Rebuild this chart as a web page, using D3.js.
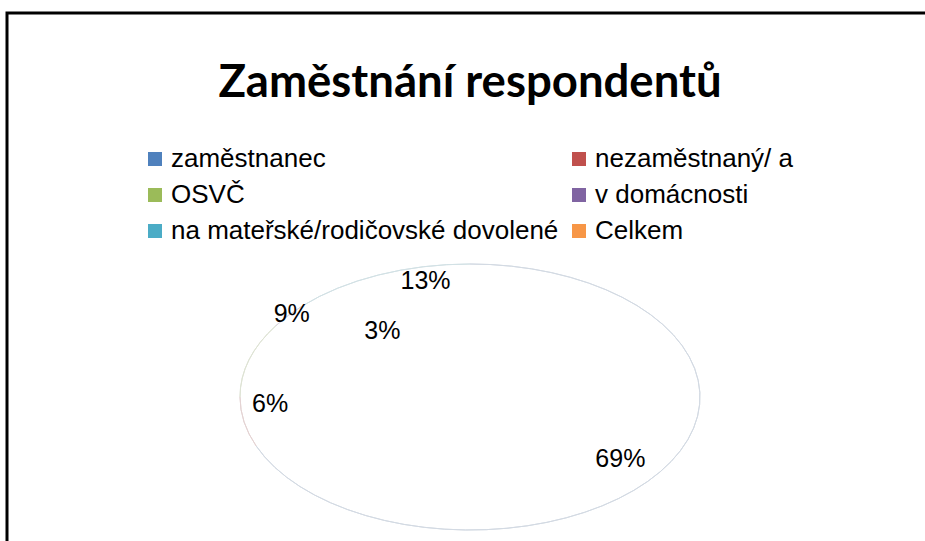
<!DOCTYPE html>
<html><head><meta charset="utf-8">
<script src="https://cdn.jsdelivr.net/npm/d3@7"></script>
<style>html,body{margin:0;padding:0;background:#fff;overflow:hidden}</style>
</head><body>
<svg id="c" width="925" height="541"></svg>
<script>
const title = "Zaměstnání respondentů";
const categories = ["zaměstnanec","nezaměstnaný/ a","OSVČ","v domácnosti","na mateřské/rodičovské dovolené","Celkem"];
const values = [69, 6, 9, 3, 13, 0];
const colors = ["#4F81BD","#C0504D","#9BBB59","#8064A2","#4BACC6","#F79646"];
const labelTexts = ["69%","6%","9%","3%","13%",""];
// label layout (angle nudge in degrees, radial factor) - best-fit placement
const labelNudge = [1, 8, 23, 15, 11, 0];
const labelRadius = [0.80, 0.87, 1.0, 0.63, 0.90, 0];

const svg = d3.select("#c");
// frame
svg.append("path").attr("d","M7,541V13H925").attr("fill","none").attr("stroke","#000").attr("stroke-width",3);

svg.append("text").attr("x",470).attr("y",97).attr("text-anchor","middle")
  .attr("font-family","Lato, 'Open Sans', sans-serif").attr("font-weight","bold")
  .attr("font-size",45.5).attr("fill","#000").text(title);

// legend
const legend = svg.append("g").attr("font-family","'Liberation Sans', Arial, sans-serif").attr("font-size",26);
const colX = [148, 572];
categories.forEach((c,i)=>{
  const col = i%2, row = Math.floor(i/2);
  const y = 152 + row*36;
  legend.append("rect").attr("x",colX[col]).attr("y",y).attr("width",14).attr("height",14).attr("fill",colors[i]);
  legend.append("text").attr("x",colX[col]+23).attr("y",y+15).attr("fill","#000").text(c);
});

// pie (ellipse)
const cx = 470, cy = 397, rx = 230, ry = 133;
const pie = d3.pie().sort(null).value(d=>d.v);
const arcsData = pie(values.map((v,i)=>({v,i})));
const g = svg.append("g").attr("transform",`translate(${cx},${cy}) scale(1,${ry/rx})`);
const wedge = d3.arc().innerRadius(0).outerRadius(rx);
const rim = d3.arc().innerRadius(rx).outerRadius(rx);
g.selectAll("path.w").data(arcsData).join("path").attr("class","w").attr("d",wedge).attr("fill","#fff");
g.selectAll("path.r").data(arcsData.filter(d=>d.data.v>0)).join("path").attr("class","r").attr("d",rim)
  .attr("fill","none").attr("stroke",d=>d3.interpolateRgb(d3.interpolateRgb(colors[d.data.i],"#888")(0.5),"#fff")(0.7))
  .attr("stroke-width",1).attr("vector-effect","non-scaling-stroke");

// labels
svg.append("g").attr("font-family","'Liberation Sans', Arial, sans-serif").attr("font-size",25)
  .selectAll("text").data(arcsData.filter(d=>d.data.v>0)).join("text")
  .attr("x",d=>{const a=(d.startAngle+d.endAngle)/2+labelNudge[d.data.i]*Math.PI/180;return cx+Math.sin(a)*rx*labelRadius[d.data.i];})
  .attr("y",d=>{const a=(d.startAngle+d.endAngle)/2+labelNudge[d.data.i]*Math.PI/180;return cy-Math.cos(a)*ry*labelRadius[d.data.i];})
  .attr("text-anchor","middle").attr("dominant-baseline","central").attr("fill","#000")
  .text(d=>labelTexts[d.data.i]);
</script>
</body></html>
